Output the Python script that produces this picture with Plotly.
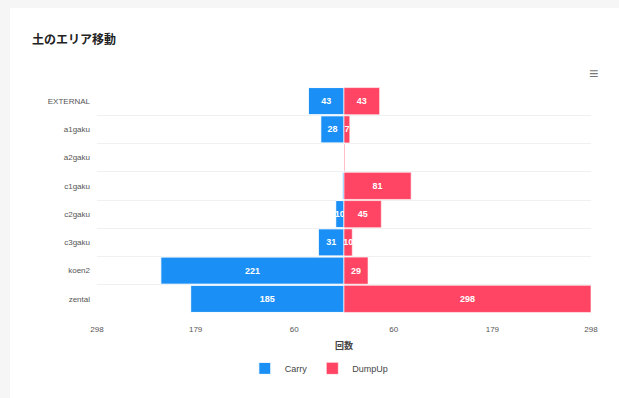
import plotly.graph_objects as go

categories = ["EXTERNAL", "a1gaku", "a2gaku", "c1gaku", "c2gaku", "c3gaku", "koen2", "zental"]
carry = [43, 28, 0, 2, 10, 31, 221, 185]
dumpup = [43, 7, 1, 81, 45, 10, 29, 298]
tick_vals = [-298, -179, -60, 60, 179, 298]
tick_text = ["298", "179", "60", "60", "179", "298"]

BLUE = "#1a8ff5"
RED = "#ff4563"

def labels(vals):
    return ["<b>%d</b>" % v if v >= 5 else "" for v in vals]

fig = go.Figure()
fig.add_trace(go.Bar(
    y=categories, x=[-v for v in carry], name="Carry", orientation="h",
    marker=dict(color=BLUE, line=dict(color="white", width=1)),
    text=labels(carry), textposition="inside", insidetextanchor="middle",
    textangle=0, textfont=dict(color="white", size=9, family="Liberation Sans"),
))
fig.add_trace(go.Bar(
    y=categories, x=dumpup, name="DumpUp", orientation="h",
    marker=dict(color=RED, line=dict(color="white", width=0.6)),
    text=labels(dumpup), textposition="inside", insidetextanchor="middle",
    textangle=0, textfont=dict(color="white", size=9, family="Liberation Sans"),
))

fig.update_layout(
    width=619, height=398,
    barmode="relative", bargap=0.04,
    paper_bgcolor="#f6f6f6", plot_bgcolor="white",
    margin=dict(l=97, r=28, t=87, b=85),
    font=dict(family="Liberation Sans", size=8, color="#555"),
    uniformtext=dict(minsize=9, mode="show"),
    showlegend=True,
    legend=dict(orientation="h", x=0.45, xanchor="center", y=-0.245, yanchor="middle",
                bgcolor="rgba(0,0,0,0)", font=dict(size=9, color="#444"),
                itemwidth=30, traceorder="normal"),
    xaxis=dict(range=[-298, 298], tickvals=tick_vals, ticktext=tick_text,
               showgrid=False, zeroline=False, showline=False,
               ticks="outside", ticklen=8, tickcolor="rgba(0,0,0,0)",
               tickfont=dict(size=8, color="#555"),
               title=dict(text="<b>回数</b>", font=dict(size=9, color="#444", family="Noto Sans CJK JP"), standoff=10)),
    yaxis=dict(autorange="reversed", tickson="boundaries", showgrid=True,
               gridcolor="#f0f0f0", gridwidth=1, showline=False, ticks="", zeroline=False,
               tickfont=dict(size=8, color="#555"), ticklabelstandoff=6),
    shapes=[dict(type="rect", xref="paper", yref="paper", x0=-0.176, x1=1.1,
                 y0=-0.4, y1=1.35, fillcolor="white", line=dict(width=0), layer="below")],
    annotations=[
        dict(text="<b>土のエリア移動</b>", xref="paper", yref="paper", x=-0.136, y=1.215,
             xanchor="left", yanchor="middle", showarrow=False,
             font=dict(size=12, color="#222", family="Noto Sans CJK JP")),
        dict(text="≡", xref="paper", yref="paper", x=1.005, y=1.06,
             xanchor="center", yanchor="middle", showarrow=False,
             font=dict(size=16, color="#777")),
    ],
)

fig.write_html("out.html")
